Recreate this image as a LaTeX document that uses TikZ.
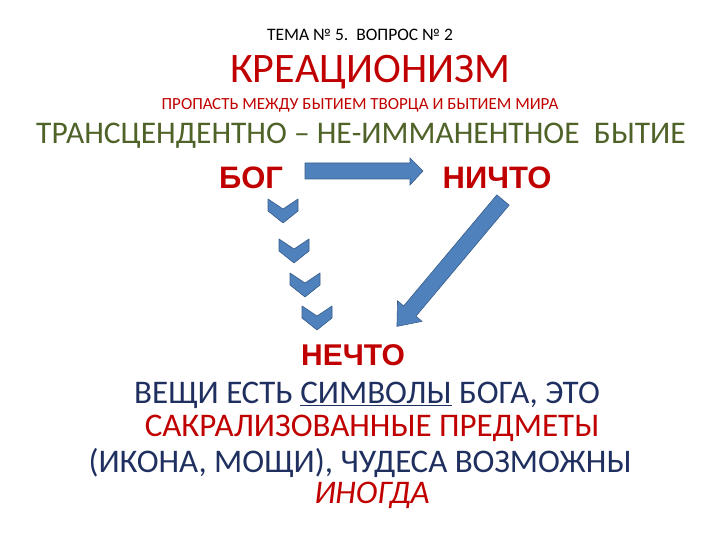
\documentclass[tikz,border=0pt]{standalone}
\usepackage{fontspec}
\setmainfont{Carlito}
\newfontfamily\arialf{Liberation Sans}
\definecolor{dred}{HTML}{C00000}
\definecolor{olv}{HTML}{4F6228}
\definecolor{nav}{HTML}{1F2F5F}
\definecolor{ablue}{HTML}{4F81BD}
\definecolor{ablued}{HTML}{385D8A}
\begin{document}
\begin{tikzpicture}[x=1pt,y=-1pt,
  txt/.style={inner sep=0pt,anchor=center},
  chev/.style={fill=ablue,draw=ablued,line width=0.6pt,line join=round},
  bigarrow/.style={fill=ablue,draw=ablued,line width=0.6pt}]
\useasboundingbox (0,0) rectangle (720,540);
\node[txt] (t1) at (360,35) {\fontsize{17.5}{19}\selectfont ТЕМА № 5.\ \ ВОПРОС № 2};
\node[txt,text=dred] (t2) at (370,72) {\fontsize{42}{46}\selectfont КРЕАЦИОНИЗМ};
\node[txt,text=dred] (t3) at (360,105) {\fontsize{17}{19}\selectfont ПРОПАСТЬ МЕЖДУ БЫТИЕМ ТВОРЦА И БЫТИЕМ МИРА};
\node[txt,text=olv] (t4) at (361,136) {\fontsize{31.5}{35}\selectfont ТРАНСЦЕНДЕНТНО – НЕ-ИММАНЕНТНОЕ\ \ БЫТИЕ};
\node[txt,text=dred] (bog) at (251,178) {\arialf\bfseries\fontsize{31}{34}\selectfont БОГ};
\node[txt,text=dred] (nich) at (497,178) {\arialf\bfseries\fontsize{31}{34}\selectfont НИЧТО};
\node[txt,text=dred] (nech) at (353,355) {\arialf\bfseries\fontsize{30}{33}\selectfont НЕЧТО};
\node[txt,text=nav] (b1) at (367,395) {\fontsize{33}{36}\selectfont ВЕЩИ ЕСТЬ \underline{СИМВОЛЫ} БОГА, ЭТО};
\node[txt,text=dred] (b2) at (372,428) {\fontsize{33}{36}\selectfont САКРАЛИЗОВАННЫЕ ПРЕДМЕТЫ};
\node[txt,text=nav] (b3) at (360,463) {\fontsize{33}{36}\selectfont (ИКОНА, МОЩИ), ЧУДЕСА ВОЗМОЖНЫ};
\node[txt,text=dred] (b4) at (372,495) {\fontsize{33}{36}\selectfont\itshape ИНОГДА};
% horizontal arrow
\draw[bigarrow] (305,163) -- (410,163) -- (410,158) -- (423,171) -- (410,185) -- (410,179) -- (305,179) -- cycle;
% diagonal arrow
\begin{scope}[shift={(503,200)},rotate=-130]
\draw[bigarrow] (0,-8) -- (145,-8) -- (145,-16) -- (165,0) -- (145,16) -- (145,8) -- (0,8) -- cycle;
\end{scope}
% chevrons
\foreach \cx/\cy in {283/195,294/235,305/269,317/302}{
  \draw[chev] (\cx-15,\cy+4) -- (\cx,\cy+14) -- (\cx+15,\cy+4) -- (\cx+15,\cy+16) -- (\cx,\cy+28) -- (\cx-15,\cy+16) -- cycle;
}
\end{tikzpicture}
\end{document}
